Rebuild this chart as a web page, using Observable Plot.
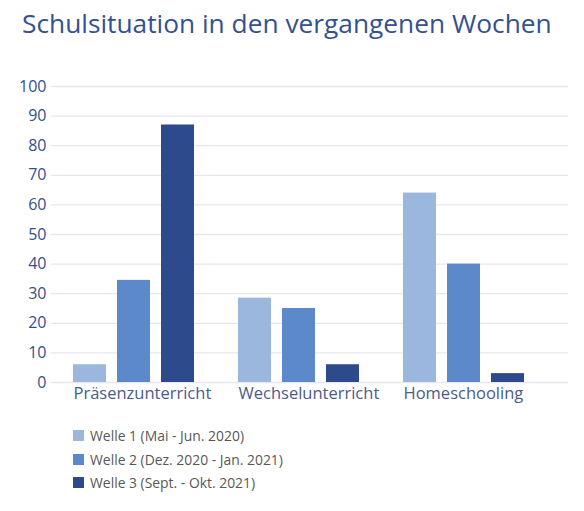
<!DOCTYPE html>
<html><head><meta charset="utf-8">
<script src="https://cdn.jsdelivr.net/npm/d3@7"></script>
<script src="https://cdn.jsdelivr.net/npm/@observablehq/plot@0.6"></script>
<style>
body{margin:0;background:#fff;font-family:"Open Sans",sans-serif;width:584px;}
#title{height:50px;box-sizing:border-box;padding:5px 0 0 22px;font-size:26.3px;line-height:36px;color:#34518f;white-space:nowrap;}
#chart{height:362px;}
#legend{margin-top:12px;padding-left:73px;}
.row{height:23.5px;display:flex;align-items:center;font-size:13.9px;color:#585858;}
.sw{width:11px;height:11px;margin-right:6px;flex:none;}
</style></head><body>
<div id="title">Schulsituation in den vergangenen Wochen</div>
<div id="chart"></div>
<div id="legend"></div>
<script>
const categories = ["Präsenzunterricht", "Wechselunterricht", "Homeschooling"];
const waves = ["Welle 1 (Mai - Jun. 2020)", "Welle 2 (Dez. 2020 - Jan. 2021)", "Welle 3 (Sept. - Okt. 2021)"];
const welle1 = [6, 28.5, 64];
const welle2 = [34.5, 25, 40];
const welle3 = [87, 6, 3];
const colors = ["#9cb7de", "#5c89c9", "#2d4b8c"];
const yTicks = [0, 10, 20, 30, 40, 50, 60, 70, 80, 90, 100];

const series = [welle1, welle2, welle3];
const data = categories.flatMap((c, i) => series.map((s, j) => ({category: c, wave: waves[j], value: s[i]})));

const chart = Plot.plot({
  width: 584, height: 362,
  marginLeft: 51, marginRight: 38, marginTop: 36, marginBottom: 30,
  style: {fontFamily: "Open Sans", background: "transparent"},
  fx: {domain: categories, paddingInner: 0, paddingOuter: 0, label: null, axis: null},
  x: {domain: waves, paddingInner: 0.25, paddingOuter: 0.5, axis: null},
  y: {domain: [0, 100], axis: null},
  color: {domain: waves, range: colors},
  marks: [
    Plot.axisY(yTicks, {tickSize: -517, tickFormat: () => "", color: "#e5e7ef", strokeWidth: 1.3, label: null}),
    Plot.axisY(yTicks, {tickSize: 0, tickPadding: 5, fontSize: 16, color: "#34508c", label: null}),
    Plot.barY(data, {fx: "category", x: "wave", y: "value", fill: "wave"}),
    Plot.axisFx({anchor: "bottom", tickSize: 0, tickPadding: 5, fontSize: 16.5, color: "#4a5b8e", label: null, textAnchor: "start", dx: -60.5})
  ]
});
document.getElementById("chart").appendChild(chart);

const legend = d3.select("#legend");
waves.forEach((w, i) => {
  const r = legend.append("div").attr("class", "row");
  r.append("div").attr("class", "sw").style("background", colors[i]);
  r.append("span").text(w);
});
</script>
</body></html>
